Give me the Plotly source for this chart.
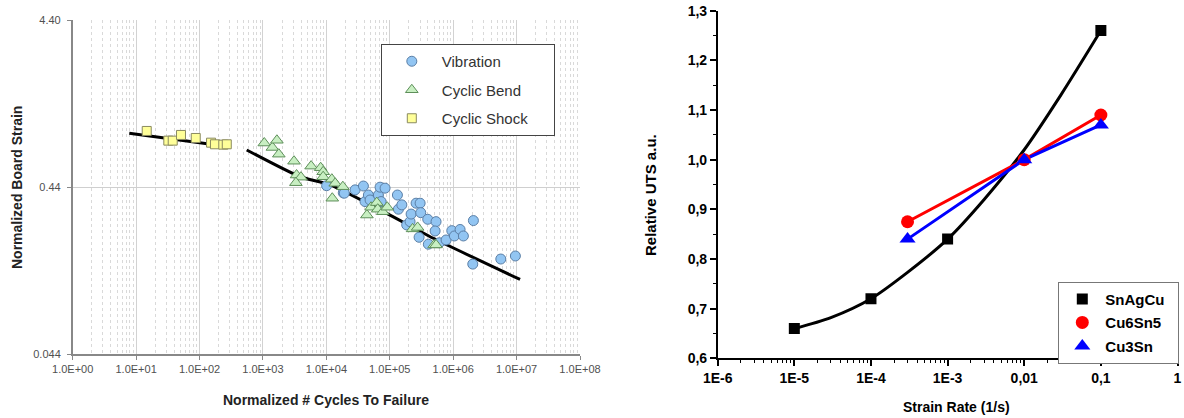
import plotly.graph_objects as go

# ---------------- Left chart data ----------------
vib_x = [10100, 18500, 19200, 28400, 38400, 40700, 46000, 48900, 66100, 70300,
         84300, 72900, 132000, 137000, 155000, 185000, 209000, 217000, 260000,
         301000, 308000, 290000, 397000, 406000, 537000, 519000, 605000, 773000,
         951000, 1045000, 1285000, 1449000, 2084000, 2037000, 5636000, 9572000]
vib_y = [0.448, 0.406, 0.404, 0.423, 0.446, 0.360, 0.394, 0.368, 0.394, 0.439,
         0.433, 0.360, 0.394, 0.324, 0.344, 0.261, 0.273, 0.303, 0.352,
         0.352, 0.309, 0.220, 0.282, 0.200, 0.273, 0.240, 0.204, 0.212,
         0.241, 0.224, 0.245, 0.224, 0.277, 0.152, 0.163, 0.170]

bend_x = [1050, 1410, 1660, 1780, 3090, 3390, 3980, 3310, 5750, 8130, 8910, 8910,
          12200, 13800, 18200, 12400, 43600, 50700, 62400, 64600, 77600, 91200,
          229000, 275000, 501000, 537000]
bend_y = [0.807, 0.759, 0.838, 0.692, 0.628, 0.519, 0.504, 0.467, 0.587, 0.574,
          0.543, 0.507, 0.490, 0.463, 0.442, 0.377, 0.299, 0.333, 0.355, 0.324,
          0.313, 0.333, 0.247, 0.252, 0.198, 0.198]

shock_x = [14.7, 32.2, 37.8, 51.0, 87.1, 152, 175, 237, 269]
shock_y = [0.953, 0.834, 0.834, 0.902, 0.865, 0.811, 0.793, 0.789, 0.793]

shock_fit_x = [7.8, 295]
shock_fit_y = [0.922, 0.767]
fat_fit_x = [555, 3850, 11500, 89700, 487000, 11350000]
fat_fit_y = [0.733, 0.507, 0.453, 0.306, 0.217, 0.123]

left_names = ["Vibration", "Cyclic Bend", "Cyclic Shock"]
left_xticks = [1e0, 1e1, 1e2, 1e3, 1e4, 1e5, 1e6, 1e7, 1e8]
left_xtext = ["1.0E+00", "1.0E+01", "1.0E+02", "1.0E+03", "1.0E+04",
              "1.0E+05", "1.0E+06", "1.0E+07", "1.0E+08"]
left_yticks = [0.044, 0.44, 4.4]
left_ytext = ["0.044", "0.44", "4.40"]

# ---------------- Right chart data ----------------
snagcu_x = [1e-5, 1e-4, 1e-3, 1e-1]
snagcu_y = [0.66, 0.72, 0.84, 1.26]
snagcu_fit_x = [1e-5, 3e-5, 1e-4, 3e-4, 1e-3, 3e-3, 1e-2, 3e-2, 1e-1]
snagcu_fit_y = [0.66, 0.682, 0.72, 0.773, 0.84, 0.92, 1.02, 1.13, 1.26]
cu6sn5_x = [3e-4, 1e-2, 1e-1]
cu6sn5_y = [0.875, 1.0, 1.09]
cu3sn_x = [3e-4, 1e-2, 1e-1]
cu3sn_y = [0.84, 1.0, 1.07]

right_names = ["SnAgCu", "Cu6Sn5", "Cu3Sn"]
right_xticks = [1e-6, 1e-5, 1e-4, 1e-3, 1e-2, 1e-1, 1]
right_xtext = ["1E-6", "1E-5", "1E-4", "1E-3", "0,01", "0,1", "1"]
right_yticks = [0.6, 0.7, 0.8, 0.9, 1.0, 1.1, 1.2, 1.3]
right_ytext = ["0,6", "0,7", "0,8", "0,9", "1,0", "1,1", "1,2", "1,3"]

FONT = "Liberation Sans, Arial, sans-serif"
NB = "\u00a0"

fig = go.Figure()

# left chart traces
fig.add_trace(go.Scatter(x=shock_fit_x, y=shock_fit_y, mode="lines",
                         line=dict(color="black", width=3), showlegend=False,
                         xaxis="x", yaxis="y", hoverinfo="skip"))
fig.add_trace(go.Scatter(x=fat_fit_x, y=fat_fit_y, mode="lines",
                         line=dict(color="black", width=3, shape="spline", smoothing=0.6),
                         showlegend=False, xaxis="x", yaxis="y", hoverinfo="skip"))
fig.add_trace(go.Scatter(x=vib_x, y=vib_y, mode="markers", name=left_names[0],
                         marker=dict(symbol="circle", size=10, color="#92C5F2",
                                     line=dict(color="#5B7FA6", width=1)),
                         xaxis="x", yaxis="y", legend="legend", legendgroup="a"))
fig.add_trace(go.Scatter(x=bend_x, y=bend_y, mode="markers", name=left_names[1],
                         marker=dict(symbol="triangle-up", size=11, color="#C8EFC2",
                                     line=dict(color="#5E8F5A", width=1)),
                         xaxis="x", yaxis="y", legend="legend", legendgroup="b"))
fig.add_trace(go.Scatter(x=shock_x, y=shock_y, mode="markers",
                         name=left_names[2] + NB * 5,
                         marker=dict(symbol="square", size=9, color="#FFFF99",
                                     line=dict(color="#8A8A60", width=1)),
                         xaxis="x", yaxis="y", legend="legend", legendgroup="c"))

# right chart traces
fig.add_trace(go.Scatter(x=snagcu_fit_x, y=snagcu_fit_y, mode="lines",
                         line=dict(color="black", width=3, shape="spline", smoothing=0.8),
                         showlegend=False, xaxis="x2", yaxis="y2", hoverinfo="skip"))
fig.add_trace(go.Scatter(x=cu6sn5_x, y=cu6sn5_y, mode="lines",
                         line=dict(color="#FF0000", width=3),
                         showlegend=False, xaxis="x2", yaxis="y2", hoverinfo="skip"))
fig.add_trace(go.Scatter(x=cu3sn_x, y=cu3sn_y, mode="lines",
                         line=dict(color="#0000FF", width=3),
                         showlegend=False, xaxis="x2", yaxis="y2", hoverinfo="skip"))
fig.add_trace(go.Scatter(x=snagcu_x, y=snagcu_y, mode="markers",
                         name=right_names[0] + NB * 2,
                         marker=dict(symbol="square", size=11, color="black"),
                         xaxis="x2", yaxis="y2", legend="legend2", legendgroup="d"))
fig.add_trace(go.Scatter(x=cu6sn5_x, y=cu6sn5_y, mode="markers", name=right_names[1],
                         marker=dict(symbol="circle", size=13, color="#FF0000"),
                         xaxis="x2", yaxis="y2", legend="legend2", legendgroup="e"))
fig.add_trace(go.Scatter(x=cu3sn_x, y=cu3sn_y, mode="markers", name=right_names[2],
                         marker=dict(symbol="triangle-up", size=14, color="#0000FF"),
                         xaxis="x2", yaxis="y2", legend="legend2", legendgroup="f"))

W, H = 1184, 418

ann = dict(xref="paper", yref="paper", showarrow=False,
           xanchor="center", yanchor="middle")

fig.update_layout(
    template="none",
    width=W, height=H, autosize=False,
    margin=dict(l=0, r=0, t=0, b=0, pad=0),
    paper_bgcolor="white", plot_bgcolor="white",
    font=dict(family=FONT),
    xaxis=dict(type="log", range=[0, 8], domain=[72.7 / W, 580 / W], anchor="y",
               automargin=False,
               tickmode="array", tickvals=left_xticks, ticktext=left_xtext,
               tickfont=dict(size=11, color="#505050"),
               showline=True, linecolor="#888888", linewidth=1.5,
               ticks="outside", ticklen=4, tickcolor="#888888",
               showgrid=True, gridcolor="#d2d2d2", gridwidth=1, zeroline=False,
               minor=dict(dtick="D1", showgrid=True, griddash="dot",
                          gridcolor="#d9d9d9", gridwidth=1, ticks="")),
    yaxis=dict(type="log", range=[-1.3565, 0.6435], domain=[1 - 354 / H, 1 - 20 / H],
               anchor="x", automargin=False, ticklabelstandoff=4,
               tickmode="array", tickvals=left_yticks, ticktext=left_ytext,
               tickfont=dict(size=11, color="#505050"),
               showline=True, linecolor="#888888", linewidth=1.5,
               ticks="outside", ticklen=4, tickcolor="#888888",
               showgrid=True, gridcolor="#cfcfcf", gridwidth=1, zeroline=False),
    xaxis2=dict(type="log", range=[-6, 0], domain=[717.7 / W, 1177.5 / W], anchor="y2",
                automargin=False, ticklabeloverflow="allow",
                tickmode="array", tickvals=right_xticks, ticktext=right_xtext,
                tickfont=dict(size=14, color="black", weight="bold"),
                showline=True, linecolor="black", linewidth=1.5,
                ticks="outside", ticklen=6, tickwidth=1.5, tickcolor="black",
                showgrid=False, zeroline=False,
                minor=dict(dtick="D1", ticks="outside", ticklen=3, tickwidth=1,
                           tickcolor="black", showgrid=False)),
    yaxis2=dict(range=[0.6, 1.3], domain=[1 - 358.3 / H, 1 - 10.7 / H], anchor="x2",
                automargin=False, ticklabeloverflow="allow",
                tickmode="array", tickvals=right_yticks, ticktext=right_ytext,
                tickfont=dict(size=14, color="black", weight="bold"),
                showline=True, linecolor="black", linewidth=1.5,
                ticks="outside", ticklen=6, tickwidth=1.5, tickcolor="black",
                showgrid=False, zeroline=False,
                minor=dict(dtick=0.05, ticks="outside", ticklen=3, tickwidth=1,
                           tickcolor="black", showgrid=False)),
    legend=dict(x=380.8 / W, y=1 - 44 / H, xanchor="left", yanchor="top",
                bgcolor="white", bordercolor="#444444", borderwidth=1,
                font=dict(size=15, color="#333333"), tracegroupgap=6,
                itemwidth=50),
    legend2=dict(x=1058.3 / W, y=1 - 281.7 / H, xanchor="left", yanchor="top",
                 bgcolor="white", bordercolor="#777777", borderwidth=1,
                 font=dict(size=15, color="black", weight="bold"), tracegroupgap=1,
                 itemwidth=36),
    annotations=[
        dict(text="Normalized # Cycles To Failure", x=326 / W, y=1 - 400 / H,
             font=dict(size=14, color="#222222", weight="bold"), **ann),
        dict(text="Normalized Board Strain", x=17 / W, y=1 - 188 / H, textangle=-90,
             font=dict(size=14, color="#222222", weight="bold"), **ann),
        dict(text="Strain Rate (1/s)", x=956 / W, y=1 - 407 / H,
             font=dict(size=14, color="black", weight="bold"), **ann),
        dict(text="Relative UTS a.u.", x=651 / W, y=1 - 195 / H, textangle=-90,
             font=dict(size=15, color="black", weight="bold"), **ann),
    ],
)

fig.write_html("out.html", config={"displayModeBar": False},
               post_script="document.body.style.margin='0';document.body.style.overflow='hidden';")
